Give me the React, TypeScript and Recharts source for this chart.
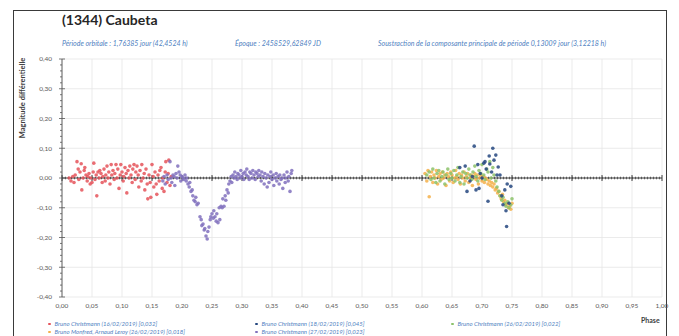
import React from "react";
import {
  ScatterChart,
  Scatter,
  XAxis,
  YAxis,
  CartesianGrid,
  ReferenceLine,
} from "recharts";

// phase, magnitude differentielle
const redPoints: [number, number][] = [
  [0.012, 0.0], [0.015, -0.01], [0.018, 0.005], [0.02, -0.015], [0.022, 0.01], [0.025, 0.055],
  [0.027, 0.03], [0.028, -0.005], [0.03, 0.02], [0.032, 0.048], [0.033, -0.04], [0.035, 0.0],
  [0.037, 0.025], [0.038, 0.035], [0.04, 0.01], [0.042, -0.01], [0.043, 0.005], [0.045, 0.015],
  [0.047, -0.02], [0.048, 0.0], [0.05, -0.015], [0.052, 0.02], [0.053, 0.05], [0.055, -0.005],
  [0.057, 0.01], [0.058, -0.06], [0.06, 0.02], [0.062, 0.0], [0.063, 0.025], [0.065, 0.015],
  [0.067, -0.015], [0.068, 0.005], [0.07, 0.03], [0.072, -0.01], [0.073, 0.01], [0.075, 0.04],
  [0.077, 0.0], [0.078, 0.02], [0.08, -0.02], [0.082, 0.045], [0.083, 0.01], [0.085, 0.025],
  [0.087, -0.005], [0.088, 0.015], [0.09, 0.045], [0.092, 0.0], [0.093, 0.03], [0.095, -0.035],
  [0.097, 0.01], [0.098, 0.045], [0.1, 0.02], [0.102, -0.01], [0.103, 0.005], [0.105, 0.035],
  [0.107, 0.015], [0.108, -0.05], [0.11, 0.025], [0.112, 0.0], [0.113, 0.04], [0.115, 0.01],
  [0.117, -0.015], [0.118, 0.03], [0.12, 0.045], [0.122, -0.005], [0.123, 0.02], [0.125, 0.04],
  [0.127, 0.01], [0.128, -0.03], [0.13, 0.025], [0.132, -0.01], [0.133, 0.045], [0.135, 0.0],
  [0.137, 0.015], [0.138, -0.04], [0.14, 0.03], [0.142, -0.02], [0.143, -0.07], [0.145, 0.01],
  [0.147, -0.015], [0.148, -0.065], [0.15, 0.045], [0.152, 0.005], [0.153, -0.03], [0.155, 0.02],
  [0.157, -0.02], [0.158, -0.055], [0.16, 0.01], [0.162, -0.01], [0.163, 0.025], [0.165, 0.035],
  [0.167, -0.035], [0.168, 0.0], [0.17, -0.045], [0.172, 0.02], [0.173, 0.055], [0.175, -0.015],
  [0.177, 0.015], [0.178, 0.06], [0.18, -0.025], [0.182, 0.005],
];

const purplePoints: [number, number][] = [
  [0.168, -0.01], [0.17, 0.005], [0.172, -0.02], [0.175, 0.01], [0.177, -0.005], [0.18, 0.055],
  [0.182, 0.0], [0.183, -0.015], [0.185, 0.01], [0.187, 0.005], [0.188, -0.025], [0.19, 0.015],
  [0.192, 0.0], [0.193, 0.04], [0.195, 0.02], [0.197, 0.01], [0.198, -0.01], [0.2, 0.005],
  [0.202, 0.0], [0.203, -0.005], [0.205, 0.01], [0.207, -0.01], [0.208, 0.0], [0.21, -0.02],
  [0.212, -0.03], [0.213, -0.015], [0.215, -0.045], [0.217, -0.04], [0.218, -0.06], [0.22, -0.075],
  [0.222, -0.08], [0.223, -0.065], [0.225, -0.09], [0.227, -0.085], [0.23, -0.13], [0.232, -0.14],
  [0.233, -0.16], [0.235, -0.155], [0.237, -0.175], [0.238, -0.17], [0.24, -0.195], [0.242, -0.205],
  [0.243, -0.18], [0.245, -0.165], [0.247, -0.14], [0.248, -0.13], [0.25, -0.12], [0.252, -0.135],
  [0.253, -0.11], [0.255, -0.13], [0.257, -0.145], [0.258, -0.12], [0.26, -0.15], [0.262, -0.1],
  [0.263, -0.14], [0.265, -0.095], [0.267, -0.1], [0.268, -0.07], [0.27, -0.095], [0.272, -0.06],
  [0.273, -0.075], [0.275, -0.04], [0.277, -0.05], [0.278, -0.02], [0.28, -0.01], [0.282, 0.005],
  [0.283, -0.015], [0.285, 0.01], [0.287, 0.0], [0.288, 0.02], [0.29, 0.005], [0.292, -0.005],
  [0.293, 0.015], [0.295, 0.01], [0.297, 0.0], [0.298, 0.025], [0.3, 0.005], [0.302, 0.015],
  [0.303, -0.005], [0.305, 0.02], [0.307, 0.01], [0.308, 0.03], [0.31, 0.005], [0.312, -0.005],
  [0.313, 0.02], [0.315, 0.015], [0.317, 0.0], [0.318, 0.025], [0.32, 0.01], [0.322, -0.005],
  [0.323, 0.02], [0.325, 0.015], [0.327, 0.005], [0.328, 0.025], [0.33, 0.01], [0.332, -0.01],
  [0.333, 0.02], [0.335, 0.005], [0.337, -0.02], [0.338, 0.015], [0.34, 0.0], [0.342, -0.03],
  [0.343, 0.01], [0.345, -0.015], [0.347, 0.005], [0.348, 0.02], [0.35, -0.005], [0.352, 0.01],
  [0.353, -0.025], [0.355, 0.0], [0.357, 0.015], [0.358, -0.01], [0.36, 0.005], [0.362, -0.02],
  [0.363, 0.01], [0.365, -0.005], [0.367, 0.0], [0.368, -0.035], [0.37, 0.01], [0.372, -0.015],
  [0.373, 0.0], [0.375, 0.02], [0.377, -0.01], [0.378, 0.005], [0.38, -0.045], [0.382, 0.015],
  [0.383, 0.025],
];

const navyPoints: [number, number][] = [
  [0.663, 0.035], [0.672, 0.04], [0.675, -0.045], [0.68, -0.01], [0.684, 0.005], [0.687, 0.107],
  [0.69, -0.04], [0.693, 0.045], [0.695, -0.035], [0.697, 0.015], [0.7, 0.0], [0.703, 0.05],
  [0.705, 0.055], [0.707, 0.03], [0.71, -0.078], [0.712, 0.074], [0.713, 0.047], [0.716, 0.02],
  [0.718, 0.1], [0.72, 0.06], [0.723, 0.077], [0.725, 0.01], [0.727, 0.037], [0.73, 0.01],
  [0.733, -0.06], [0.735, -0.09], [0.738, -0.04], [0.74, -0.11], [0.741, -0.163], [0.742, -0.02],
  [0.745, -0.085], [0.748, -0.028],
];

const greenPoints: [number, number][] = [
  [0.608, 0.01], [0.612, 0.02], [0.615, -0.005], [0.618, 0.03], [0.62, 0.0], [0.623, -0.015],
  [0.625, 0.015], [0.628, 0.025], [0.63, -0.01], [0.633, 0.005], [0.635, 0.02], [0.638, -0.02],
  [0.64, 0.01], [0.643, 0.03], [0.645, -0.005], [0.648, 0.015], [0.65, 0.0], [0.653, 0.025],
  [0.655, -0.01], [0.658, 0.01], [0.66, 0.035], [0.663, -0.015], [0.665, 0.005], [0.668, 0.02],
  [0.67, -0.02], [0.673, 0.015], [0.675, 0.0], [0.678, 0.03], [0.68, 0.01], [0.683, -0.005],
  [0.685, 0.02], [0.688, 0.04], [0.69, 0.005], [0.693, -0.01], [0.695, 0.025], [0.698, 0.015],
  [0.7, 0.045], [0.703, 0.01], [0.705, -0.005], [0.708, 0.03], [0.71, 0.02], [0.713, 0.055],
  [0.715, 0.0], [0.718, 0.035], [0.72, 0.01], [0.723, -0.01], [0.725, -0.03], [0.728, -0.045],
  [0.73, -0.06], [0.733, -0.075], [0.735, -0.065], [0.738, -0.085], [0.74, -0.095], [0.743, -0.08],
  [0.745, -0.1], [0.748, -0.09], [0.75, -0.07],
];

const orangePoints: [number, number][] = [
  [0.605, 0.015], [0.608, -0.01], [0.61, 0.025], [0.612, -0.063], [0.614, 0.005], [0.616, 0.02],
  [0.618, -0.015], [0.62, 0.01], [0.622, 0.0], [0.624, 0.025], [0.626, -0.02], [0.628, 0.005],
  [0.63, 0.015], [0.632, -0.005], [0.634, 0.02], [0.636, 0.0], [0.638, 0.01], [0.64, -0.025],
  [0.642, 0.015], [0.644, 0.005], [0.646, -0.01], [0.648, 0.02], [0.65, 0.01], [0.652, -0.015],
  [0.654, 0.0], [0.656, 0.025], [0.658, 0.005], [0.66, -0.005], [0.662, 0.015], [0.664, -0.02],
  [0.666, 0.01], [0.668, 0.0], [0.67, 0.02], [0.672, -0.01], [0.674, 0.005], [0.676, 0.015],
  [0.678, -0.015], [0.68, 0.0], [0.682, 0.01], [0.684, -0.025], [0.686, 0.005], [0.688, 0.015],
  [0.69, -0.005], [0.692, 0.01], [0.694, -0.02], [0.696, 0.0], [0.698, 0.01], [0.7, -0.01],
  [0.702, 0.005], [0.704, -0.015], [0.706, 0.0], [0.708, -0.005], [0.71, -0.02], [0.712, -0.01],
  [0.714, -0.025], [0.716, -0.015], [0.718, -0.03], [0.72, -0.02], [0.722, -0.04], [0.724, -0.035],
  [0.726, -0.05], [0.728, -0.045], [0.73, -0.06], [0.732, -0.07], [0.734, -0.055], [0.736, -0.08],
  [0.738, -0.075], [0.74, -0.09], [0.742, -0.085], [0.744, -0.1], [0.746, -0.095], [0.748, -0.105],
  [0.75, -0.085],
];

const xTicks = [0, 0.05, 0.1, 0.15, 0.2, 0.25, 0.3, 0.35, 0.4, 0.45, 0.5, 0.55, 0.6, 0.65, 0.7, 0.75, 0.8, 0.85, 0.9, 0.95, 1];
const yMajorTicks = [-0.4, -0.3, -0.2, -0.1, 0, 0.1, 0.2, 0.3, 0.4];
const yMinorTicks = Array.from({ length: 41 }, (_, i) => Math.round((-0.4 + i * 0.02) * 100) / 100);

const legendItems = [
  { name: "Bruno Christmann (16/02/2019) [0,032]", color: "#e5535b" },
  { name: "Bruno Christmann (18/02/2019) [0,045]", color: "#24477f" },
  { name: "Bruno Christmann (26/02/2019) [0,022]", color: "#8cc26a" },
  { name: "Bruno Monfred, Arnaud Leroy (26/02/2019) [0,018]", color: "#f4b04a" },
  { name: "Bruno Christmann (27/02/2019) [0,023]", color: "#8070bd" },
];

const series = [
  { pts: redPoints, color: "#e5535b" },
  { pts: purplePoints, color: "#8070bd" },
  { pts: orangePoints, color: "#f4b04a" },
  { pts: greenPoints, color: "#8cc26a" },
  { pts: navyPoints, color: "#24477f" },
];

const fmt = (v: number) => v.toFixed(2).replace(".", ",");
const FONT = "Lato, 'Open Sans', sans-serif";
const BLUE = "#4f7fbf";

const YTick = (props: any) => {
  const { x, y, payload } = props;
  const v = payload.value;
  const major = Math.abs(v * 10 - Math.round(v * 10)) < 1e-6;
  return (
    <g>
      <line x1={x - (major ? 3 : 2)} x2={x + (major ? 3 : 0)} y1={y} y2={y} stroke="#555" strokeWidth={0.8} />
      {major && (
        <text x={x - 10} y={y} dy={2.3} textAnchor="end" fontSize={6.5} fill="#595959" fontFamily={FONT}>
          {fmt(v)}
        </text>
      )}
    </g>
  );
};

const dot = (color: string) => (p: any) => <circle cx={p.cx} cy={p.cy} r={1.8} fill={color} fillOpacity={0.85} />;

const zeroTickShape = (p: any) => (
  <line x1={p.cx} x2={p.cx} y1={p.cy - 3} y2={p.cy + 3} stroke="#404040" strokeWidth={1} />
);

export default function App() {
  const zeroTicks = xTicks.map((x) => ({ x, y: 0 }));
  return (
    <div style={{ position: "fixed", left: 0, top: 0, width: 679, height: 336, background: "#fff", overflow: "hidden", fontFamily: FONT }}>
      <div style={{ position: "absolute", left: 13, top: 10, width: 654, height: 360, border: "1.5px solid #3a3a3a", boxSizing: "border-box" }} />
      <div style={{ position: "absolute", left: 62, top: 11, fontSize: 14, fontWeight: 700, color: "#262626", lineHeight: "18px" }}>
        (1344) Caubeta
      </div>
      <div style={{ position: "absolute", left: 62, top: 38, fontSize: 7, fontStyle: "italic", color: BLUE, lineHeight: "10px", whiteSpace: "nowrap" }}>
        Période orbitale : 1,76385 jour (42,4524 h)
      </div>
      <div style={{ position: "absolute", left: 235, top: 38, fontSize: 7, fontStyle: "italic", color: BLUE, lineHeight: "10px", whiteSpace: "nowrap" }}>
        Époque : 2458529,62849 JD
      </div>
      <div style={{ position: "absolute", left: 378, top: 38, fontSize: 7, fontStyle: "italic", color: BLUE, lineHeight: "10px", whiteSpace: "nowrap" }}>
        Soustraction de la composante principale de période 0,13009 jour (3,12218 h)
      </div>
      <div
        style={{
          position: "absolute", left: 22, top: 98, fontSize: 7.5, fontWeight: 700, color: "#404040",
          transform: "translate(-50%, -50%) rotate(-90deg)", whiteSpace: "nowrap",
        }}
      >
        Magnitude différentielle
      </div>
      <div style={{ position: "absolute", left: 641, top: 315, fontSize: 7, fontWeight: 700, color: "#404040", lineHeight: "10px" }}>
        Phase
      </div>
      {legendItems.map((it, i) => {
        const col = i < 3 ? i : i - 3;
        const row = i < 3 ? 0 : 1;
        const left = [48, 255, 451][col];
        return (
          <div
            key={it.name}
            style={{
              position: "absolute", left, top: 320 + row * 8, fontSize: 6, fontStyle: "italic", color: BLUE,
              lineHeight: "8px", whiteSpace: "nowrap", display: "flex", alignItems: "center",
            }}
          >
            <span style={{ display: "inline-block", width: 2.5, height: 2.5, borderRadius: 2, background: it.color, marginRight: 4 }} />
            {it.name}
          </div>
        );
      })}
      <div style={{ position: "absolute", left: 0, top: 0 }}>
        <ScatterChart width={679} height={336} margin={{ top: 59, right: 17, bottom: 19, left: 32 }}>
          <CartesianGrid horizontal={false} stroke="#e6e6e6" strokeWidth={0.8} />
          {yMajorTicks.map((v) => (
            <ReferenceLine key={v} y={v} stroke="#e6e6e6" strokeWidth={0.8} />
          ))}
          <XAxis
            type="number"
            dataKey="x"
            domain={[0, 1]}
            ticks={xTicks}
            interval={0}
            axisLine={false}
            tickLine={false}
            tickSize={0}
            tickMargin={6}
            height={20}
            tickFormatter={fmt}
            tick={{ fontSize: 6.5, fill: "#595959", fontFamily: FONT }}
          />
          <YAxis
            type="number"
            dataKey="y"
            domain={[-0.4, 0.4]}
            ticks={yMinorTicks}
            interval={0}
            width={30}
            axisLine={{ stroke: "#555", strokeWidth: 0.9 }}
            tickLine={false}
            tickSize={0}
            tickMargin={0}
            tick={<YTick />}
          />
          <ReferenceLine y={0} stroke="#404040" strokeWidth={1} />
          <ReferenceLine y={0} stroke="#555" strokeWidth={2.5} strokeDasharray="1 2" />
          <Scatter data={zeroTicks} shape={zeroTickShape} isAnimationActive={false} />
          {series.map((s, i) => (
            <Scatter
              key={i}
              data={s.pts.map(([x, y]) => ({ x, y }))}
              shape={dot(s.color)}
              isAnimationActive={false}
            />
          ))}
        </ScatterChart>
      </div>
    </div>
  );
}
